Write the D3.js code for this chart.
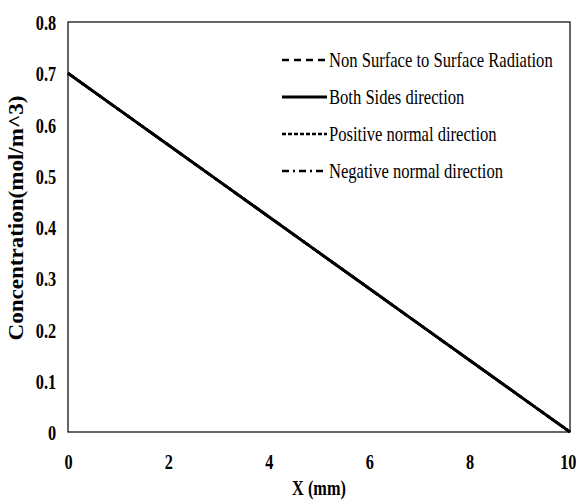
<!DOCTYPE html>
<html><head><meta charset="utf-8">
<script src="https://cdn.jsdelivr.net/npm/d3@7"></script>
<style>body{margin:0;background:#fff}svg{display:block}</style>
</head><body><svg id="c" width="576" height="500"></svg>
<script>
const xValues = [0,1,2,3,4,5,6,7,8,9,10];
const nonS2S = [0.7,0.63,0.56,0.49,0.42,0.35,0.28,0.21,0.14,0.07,0];
const bothSides = [0.7,0.63,0.56,0.49,0.42,0.35,0.28,0.21,0.14,0.07,0];
const positiveNormal = [0.7,0.63,0.56,0.49,0.42,0.35,0.28,0.21,0.14,0.07,0];
const negativeNormal = [0.7,0.63,0.56,0.49,0.42,0.35,0.28,0.21,0.14,0.07,0];
const seriesNames = ["Non Surface to Surface Radiation","Both Sides direction","Positive normal direction","Negative normal direction"];
const xTicks = [0,2,4,6,8,10];
const yTicks = [0,0.1,0.2,0.3,0.4,0.5,0.6,0.7,0.8];

const styles = [
  {dash:"7,5", w:2.5},
  {dash:null, w:3},
  {dash:"4,2", w:2.5},
  {dash:"7,4,2,4", w:2.5}
];
const series = [nonS2S, bothSides, positiveNormal, negativeNormal];

const svg = d3.select("#c");
const L=68,R=570,T=22,B=432;
const x = d3.scaleLinear().domain([0,10]).range([L,R]);
const y = d3.scaleLinear().domain([0,0.8]).range([B,T]);
const serif = "'Liberation Serif','Times New Roman',serif";
const sx = 0.74;

// frame
svg.append("rect").attr("x",L).attr("y",T).attr("width",R-L).attr("height",B-T)
  .attr("fill","none").attr("stroke","#000").attr("stroke-width",1.2);

// axes
const ya = svg.append("g").attr("transform",`translate(${L},0)`)
  .call(d3.axisLeft(y).tickValues(yTicks).tickSize(0).tickPadding(0).tickFormat(d=>d===0?"0":d3.format(".1f")(d)));
ya.select(".domain").remove();
ya.selectAll("text").attr("x",-16).attr("dy","0.35em")
  .attr("font-family",serif).attr("font-weight","bold").attr("font-size",22)
  .attr("transform",`scale(${sx},1)`).attr("fill","#000");

const xa = svg.append("g").attr("transform",`translate(0,${B})`)
  .call(d3.axisBottom(x).tickValues(xTicks).tickSize(0).tickPadding(0).tickFormat(d3.format("d")));
xa.select(".domain").remove();
xa.selectAll(".tick").each(function(d){
  d3.select(this).select("text").attr("y",29).attr("dy","0.35em")
   .attr("font-family",serif).attr("font-weight","bold").attr("font-size",22).attr("fill","#000")
   .attr("text-anchor", d===10 ? "end" : "middle")
   .attr("x", d===10 ? 8 : 0)
   .attr("transform",`scale(${sx},1)`);
});

// axis titles
svg.append("text").attr("transform",`translate(319,495) scale(${sx},1)`)
  .attr("text-anchor","middle").attr("font-family",serif).attr("font-weight","bold").attr("font-size",22)
  .text("X (mm)");
svg.append("text").attr("transform",`translate(23,218) rotate(-90)`)
  .attr("text-anchor","middle").attr("font-family",serif).attr("font-weight","bold").attr("font-size",22)
  .attr("textLength",245).attr("lengthAdjust","spacingAndGlyphs")
  .text("Concentration(mol/m^3)");

// lines
const line = d3.line().x((d,i)=>x(xValues[i])).y(d=>y(d));
[0,2,3,1].forEach(k=>{
  svg.append("path").datum(series[k]).attr("d",line).attr("fill","none")
    .attr("stroke","#000").attr("stroke-width",styles[k].w)
    .attr("stroke-dasharray",styles[k].dash);
});

// legend
const legY = [60,97,134,171];
seriesNames.forEach((n,i)=>{
  svg.append("line").attr("x1",282).attr("x2",327).attr("y1",legY[i]).attr("y2",legY[i])
    .attr("stroke","#000").attr("stroke-width",styles[i].w).attr("stroke-dasharray",styles[i].dash);
  svg.append("text").attr("transform",`translate(329,${legY[i]}) scale(0.79,1)`).attr("dy","0.35em")
    .attr("font-family",serif).attr("font-size",21).text(n);
});
</script></body></html>
